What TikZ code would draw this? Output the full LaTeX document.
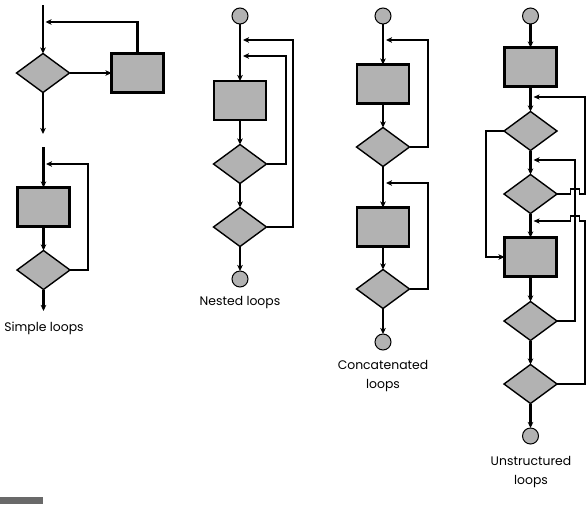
\documentclass[tikz,border=0pt]{standalone}
\usepackage{fontspec}
\setmainfont{Poppins}
\usetikzlibrary{shapes.geometric,arrows.meta}
\definecolor{fillg}{RGB}{178,178,178}
\definecolor{barg}{RGB}{105,105,105}
\tikzset{
  boxn/.style={draw=black, fill=fillg, line width=2.6pt, minimum width=52pt, minimum height=39pt, inner sep=0pt, outer sep=0pt},
  dia/.style={diamond, draw=black, fill=fillg, line width=1.4pt, minimum width=53pt, minimum height=39pt, inner sep=0pt, outer sep=0pt},
  circ/.style={circle, draw=black, fill=fillg, line width=1pt, minimum size=16pt, inner sep=0pt, outer sep=0pt},
  flow/.style={line width=2.4pt, -{Stealth[length=6pt,width=5.5pt,inset=1.5pt]}},
  thinflow/.style={line width=1.2pt, -{Stealth[length=6pt,width=5pt,inset=1.5pt]}},
  lab/.style={font=\fontsize{12.4pt}{19pt}\selectfont, align=center, inner sep=0pt}
}
\begin{document}
\begin{tikzpicture}[x=1pt,y=-1pt]
\useasboundingbox (0,0) rectangle (588,504);
\fill[barg] (0,497) rectangle (43,504);
% ---- Simple loop 1
\coordinate (s1top) at (43,5);
\node[dia] (d1) at (43,73) {};
\node[boxn] (b1) at (137.5,73) {};
\coordinate (s1out) at (43,134);
\coordinate (e1) at (45.5,22);
\draw[flow] (s1top) -- (d1.north);
\draw[flow] (d1.east) -- (b1.west);
\draw[flow] (b1.north) |- (e1);
\draw[flow] (d1.south) -- (s1out);
% ---- Simple loop 2
\coordinate (s2top) at (43.5,147);
\node[boxn] (b2) at (43.5,207) {};
\node[dia] (d2) at (43.5,270) {};
\coordinate (s2out) at (43.5,311);
\coordinate (c2) at (88,270);
\coordinate (e2) at (46,164);
\draw[flow] (s2top) -- (b2.north);
\draw[flow] (b2.south) -- (d2.north);
\draw[flow] (d2.south) -- (s2out);
\draw[flow] (d2.east) -- (c2) |- (e2);
\node[lab] (l1) at (44,328) {Simple loops};
% ---- Nested loops
\node[circ] (n0) at (240,16) {};
\node[boxn] (nb) at (240,100.5) {};
\node[dia] (nd1) at (240,164) {};
\node[dia] (nd2) at (240,227) {};
\node[circ] (n9) at (240,279) {};
\coordinate (ne1) at (243,40);
\coordinate (ne2) at (243,56);
\coordinate (nc1) at (293,227);
\coordinate (nc2) at (286,164);
\draw[flow] (n0) -- (nb.north);
\draw[flow] (nb.south) -- (nd1.north);
\draw[flow] (nd1.south) -- (nd2.north);
\draw[flow] (nd2.south) -- (n9);
\draw[flow] (nd2.east) -- (nc1) |- (ne1);
\draw[flow] (nd1.east) -- (nc2) |- (ne2);
\node[lab] (l2) at (240,303) {Nested loops};
% ---- Concatenated loops
\node[circ] (c0) at (383,16) {};
\node[boxn] (cb1) at (383,84) {};
\node[dia] (cd1) at (383,147) {};
\node[boxn] (cb2) at (383,227) {};
\node[dia] (cd2) at (383,289) {};
\node[circ] (c9) at (383,342) {};
\coordinate (ce1) at (386,40);
\coordinate (ce2) at (386,183);
\coordinate (cc1) at (428,147);
\coordinate (cc2) at (428,289);
\draw[flow] (c0) -- (cb1.north);
\draw[flow] (cb1.south) -- (cd1.north);
\draw[flow] (cd1.south) -- (cb2.north);
\draw[flow] (cb2.south) -- (cd2.north);
\draw[flow] (cd2.south) -- (c9);
\draw[flow] (cd1.east) -- (cc1) |- (ce1);
\draw[flow] (cd2.east) -- (cc2) |- (ce2);
\node[lab] (l3) at (383,376) {Concatenated\\loops};
% ---- Unstructured loops
\node[circ] (u0) at (530.5,16) {};
\node[boxn] (ub1) at (530.5,67) {};
\node[dia] (ud1) at (530.5,131) {};
\node[dia] (ud2) at (530.5,194) {};
\node[boxn] (ub2) at (530.5,257) {};
\node[dia] (ud3) at (530.5,321) {};
\node[dia] (ud4) at (530.5,384) {};
\node[circ] (u9) at (530.5,436) {};
\coordinate (ua) at (533.5,97);
\coordinate (ub) at (533.5,160);
\coordinate (uc) at (533.5,221);
\coordinate (uleft) at (486,131);
\coordinate (uleft2) at (486,257);
\coordinate (uthick) at (575,321);
\draw[flow] (u0) -- (ub1.north);
\draw[flow] (ub1.south) -- (ud1.north);
\draw[flow] (ud1.south) -- (ud2.north);
\draw[flow] (ud2.south) -- (ub2.north);
\draw[flow] (ub2.south) -- (ud3.north);
\draw[flow] (ud3.south) -- (ud4.north);
\draw[flow] (ud4.south) -- (u9);
\draw[flow] (ud1.west) -- (uleft) -- (uleft2) -- (ub2.west);
\draw[flow] (ud3.east) -- (uthick) |- (ub);
\draw[thinflow] (ud2.east) -- (570.5,194) -- (570.5,189) -- (579.5,189) -- (579.5,194) -- (585,194) -- (585,97) -- (ua);
\draw[thinflow] (ud4.east) -- (585,384) -- (585,221) -- (579.5,221) -- (579.5,216) -- (570.5,216) -- (570.5,221) -- (uc);
\node[lab] (l4) at (531,472) {Unstructured\\loops};
\end{tikzpicture}
\end{document}
